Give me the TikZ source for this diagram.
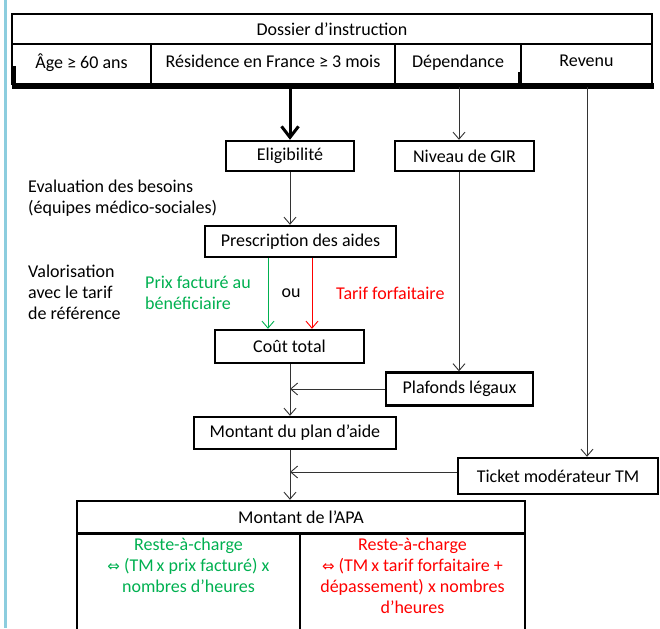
\documentclass[tikz,border=0pt]{standalone}
\usepackage{fontspec}
\setmainfont{Carlito}
\newfontfamily\symbfont{DejaVu Sans}
\usepackage{xcolor}
\usepackage{tikz}
\usetikzlibrary{arrows.meta,shapes}
\definecolor{vert}{RGB}{0, 176, 80}
\definecolor{rouge}{RGB}{255, 0, 0}
\definecolor{bleuclair}{RGB}{140, 205, 222}
\newcommand{\ssi}{{\symbfont\fontsize{15}{15}\selectfont ⇔}}

\begin{document}
\begin{tikzpicture}[x=1pt, y=-1pt, font=\fontsize{18}{21}\selectfont,
    cell/.style={draw, line width=2pt, inner sep=0pt, align=center},
    box/.style={draw, line width=2.4pt, inner sep=0pt, align=center},
    fleche/.style={-{Straight Barb[length=7pt,width=12pt]}, line width=0.9pt, black!80},
    grosse/.style={-{Straight Barb[length=11pt,width=17pt]}, line width=3pt},
    note/.style={align=left, anchor=west, inner sep=0pt}]
    \useasboundingbox (0,0) rectangle (660,628);

    % Bordure bleue
    \draw[bleuclair, line width=3pt] (5,0) -- (5,628);

    % Dossier d'instruction
    \node[cell, minimum width=640pt, minimum height=30pt] (dossier) at (332,29) {Dossier d’instruction};
    \node[cell, minimum width=139pt, minimum height=40pt, text depth=6pt] (age) at (81.5,64) {Âge ≥ 60 ans};
    \node[cell, minimum width=244pt, minimum height=40pt, text depth=6pt] (residence) at (273,64) {Résidence en France ≥ 3 mois};
    \node[cell, minimum width=126pt, minimum height=40pt, text depth=6pt] (dependance) at (458,64) {Dépendance};
    \node[cell, minimum width=131pt, minimum height=40pt, text depth=6pt] (revenu) at (586.5,64) {Revenu};
    \draw[line width=4pt] (14,66) -- (14,87) -- (652,87) -- (652,83);
    \draw[line width=4pt] (520,72) -- (520,87);
    \coordinate (pied) at (290,87);
    \coordinate (pdep) at (459,87);
    \coordinate (prev) at (587,87);
    \coordinate (axe) at (290,0);
    \coordinate (xvert) at (268,0);
    \coordinate (xrouge) at (312,0);

    % Boites
    \node[box, minimum width=128pt, minimum height=30pt] (elig) at (290,156) {Eligibilité};
    \node[box, minimum width=139pt, minimum height=30pt] (gir) at (464.5,156) {Niveau de GIR};
    \node[box, minimum width=191pt, minimum height=31pt] (presc) at (300.5,241.5) {Prescription des aides};
    \node[box, minimum width=149pt, minimum height=33pt] (cout) at (289.5,346.5) {Coût total};
    \node[box, minimum width=147pt, minimum height=33pt] (plaf) at (459.5,389) {Plafonds légaux};
    \node[box, minimum width=202pt, minimum height=32pt] (plan) at (295,433) {Montant du plan d’aide};
    \node[box, minimum width=200pt, minimum height=36pt] (ticket) at (558,476) {Ticket modérateur TM};

    % Montant de l'APA
    \node[box, minimum width=448pt, minimum height=32pt] (apa) at (301,517) {Montant de l’APA};
    \node[box, anchor=north, minimum width=223pt, minimum height=110pt] (rac1) at (188.5,533) {};
    \node[box, anchor=north, minimum width=225pt, minimum height=110pt] (rac2) at (412.5,533) {};
    \node[vert, align=center, anchor=north, inner sep=0pt] (txt1) at (188.5,538) {Reste-à-charge\\\ssi{} (TM\,x prix facturé) x\\nombres d’heures};
    \node[rouge, align=center, anchor=north, inner sep=0pt] (txt2) at (412.5,538) {Reste-à-charge\\\ssi{} (TM\,x tarif forfaitaire +\\dépassement) x nombres\\d’heures};

    % Textes
    \node[note] (besoins) at (28,198) {Evaluation des besoins\\(équipes médico-sociales)};
    \node[note] (valor) at (28,292) {Valorisation\\avec le tarif\\de référence};
    \node[note, vert] (prix) at (145,293) {Prix facturé au\\bénéficiaire};
    \node[inner sep=0pt] (ou) at (291,293) {ou};
    \node[note, rouge] (tarif) at (336,293) {Tarif forfaitaire};

    % Fleches
    \draw[grosse] (pied) -- (pied |- elig.north);
    \draw[fleche] (pdep) -- (pdep |- gir.north);
    \draw[fleche] (prev) -- (prev |- ticket.north);
    \draw[fleche] (elig.south -| axe) -- (presc.north -| axe);
    \draw[fleche, vert] (presc.south -| xvert) -- (cout.north -| xvert);
    \draw[fleche, rouge] (presc.south -| xrouge) -- (cout.north -| xrouge);
    \draw[fleche] (gir.south -| pdep) -- (plaf.north -| pdep);
    \draw[fleche] (cout.south -| axe) -- (plan.north -| axe);
    \draw[fleche] (plaf.west) -- (plaf.west -| axe);
    \draw[fleche] (plan.south -| axe) -- (apa.north -| axe);
    \draw[fleche] ([yshift=4pt]ticket.west) -- ([yshift=4pt]ticket.west -| axe);
\end{tikzpicture}
\end{document}
